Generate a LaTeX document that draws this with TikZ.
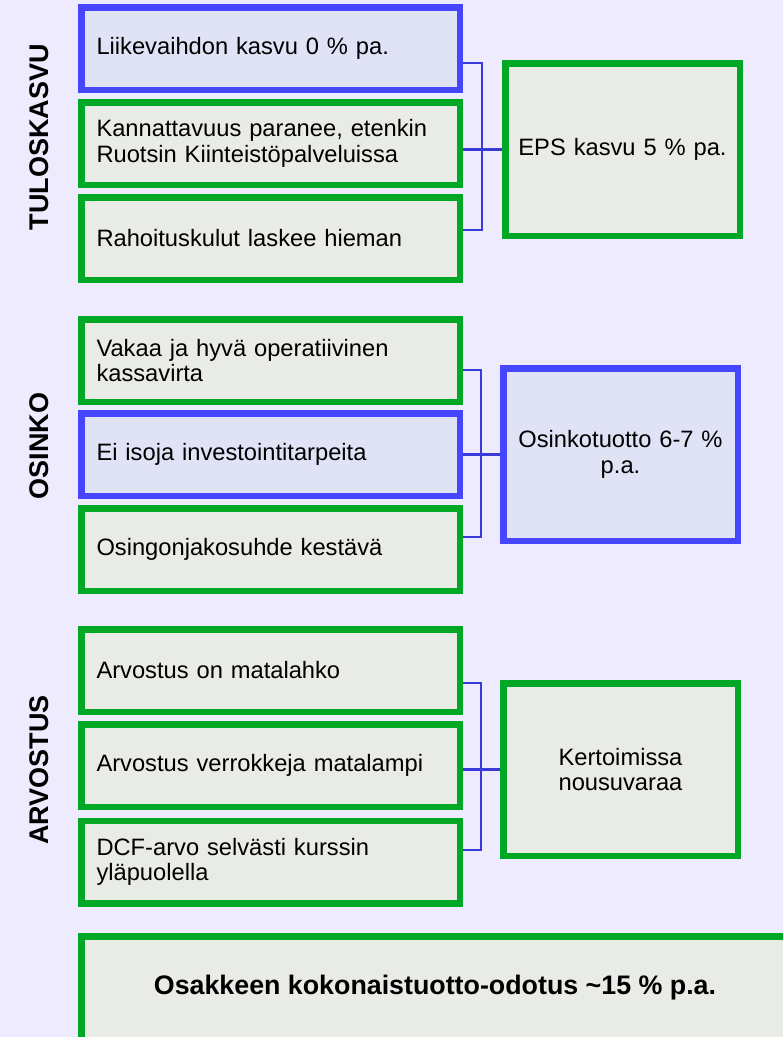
\documentclass[tikz,border=0pt]{standalone}
\usepackage{fontspec}
\setmainfont{Liberation Sans}
\definecolor{bgc}{HTML}{EDEBFD}
\definecolor{grn}{HTML}{00A826}
\definecolor{grnfill}{HTML}{E9ECE6}
\definecolor{blu}{HTML}{4646FF}
\definecolor{blufill}{HTML}{E0E3F5}
\definecolor{linkc}{HTML}{3A3AD8}
\begin{document}
\begin{tikzpicture}[x=1pt,y=-1pt,
  every node/.style={font=\fontsize{23.7}{25.5}\selectfont, text=black},
  leftbox/.style={draw, line width=6.5pt, minimum width=378.5pt, minimum height=82.5pt,
    text width=348pt, align=left, inner xsep=15pt, inner ysep=0pt},
  rightbox/.style={draw, line width=6.5pt, minimum width=234.5pt, minimum height=172.5pt,
    text width=215pt, align=center, inner sep=0pt},
  greenbox/.style={draw=grn, fill=grnfill},
  bluebox/.style={draw=blu, fill=blufill},
  sidelabel/.style={rotate=90, font=\fontsize{27}{29}\selectfont\bfseries},
  link/.style={draw=linkc, line width=2.2pt}]
\useasboundingbox (0,0) rectangle (783,1037);
\clip (0,0) rectangle (783,1037);
\fill[bgc] (0,0) rectangle (783,1037);

% section labels
\node[sidelabel] (lab1) at (39,137) {TULOSKASVU};
\node[sidelabel] (lab2) at (39,446) {OSINKO};
\node[sidelabel] (lab3) at (39,770) {ARVOSTUS};

% earnings growth
\node[leftbox, bluebox]  (a1) at (270.5,48.5)  {Liikevaihdon kasvu 0 \% pa.};
\node[leftbox, greenbox] (a2) at (270.5,143.5) {Kannattavuus paranee, etenkin\\Ruotsin Kiinteistöpalveluissa};
\node[leftbox, greenbox] (a3) at (270.5,238.5) {Rahoituskulut laskee hieman};
\node[rightbox, greenbox] (ra) at (622.5,149.5) {EPS kasvu 5 \% pa.};

% dividend
\node[leftbox, greenbox] (b1) at (270.5,360.5) {Vakaa ja hyvä operatiivinen\\kassavirta};
\node[leftbox, bluebox]  (b2) at (270.5,454.5) {Ei isoja investointitarpeita};
\node[leftbox, greenbox] (b3) at (270.5,549.5) {Osingonjakosuhde kestävä};
\node[rightbox, bluebox] (rb) at (620.5,454.5) {Osinkotuotto 6-7 \%\\p.a.};

% valuation
\node[leftbox, greenbox] (c1) at (270.5,670.5) {Arvostus on matalahko};
\node[leftbox, greenbox] (c2) at (270.5,765.5) {Arvostus verrokkeja matalampi};
\node[leftbox, greenbox] (c3) at (270.5,862)   {DCF-arvo selvästi kurssin\\yläpuolella};
\node[rightbox, greenbox] (rc) at (620.5,769.5) {Kertoimissa\\nousuvaraa};

% total return
\node[draw=grn, fill=grnfill, line width=6.5pt, minimum width=707.5pt, minimum height=103.5pt,
  font=\fontsize{26.8}{28}\selectfont\bfseries] (tot) at (435,988) {Osakkeen kokonaistuotto-odotus \textasciitilde15 \% p.a.};

% brackets
\coordinate (ka) at (482,63);
\coordinate (kb) at (482,230);
\draw[link] (a1.east |- ka) -- (ka) -- (kb) -- (a3.east |- kb);
\draw[link] (a2.east |- ra.west) -- (ra.west);

\coordinate (kc) at (481,370);
\coordinate (kd) at (481,537);
\draw[link] (b1.east |- kc) -- (kc) -- (kd) -- (b3.east |- kd);
\draw[link] (b2.east |- rb.west) -- (rb.west);

\coordinate (ke) at (481,683);
\coordinate (kf) at (481,850);
\draw[link] (c1.east |- ke) -- (ke) -- (kf) -- (c3.east |- kf);
\draw[link] (c2.east |- rc.west) -- (rc.west);
\end{tikzpicture}
\end{document}
